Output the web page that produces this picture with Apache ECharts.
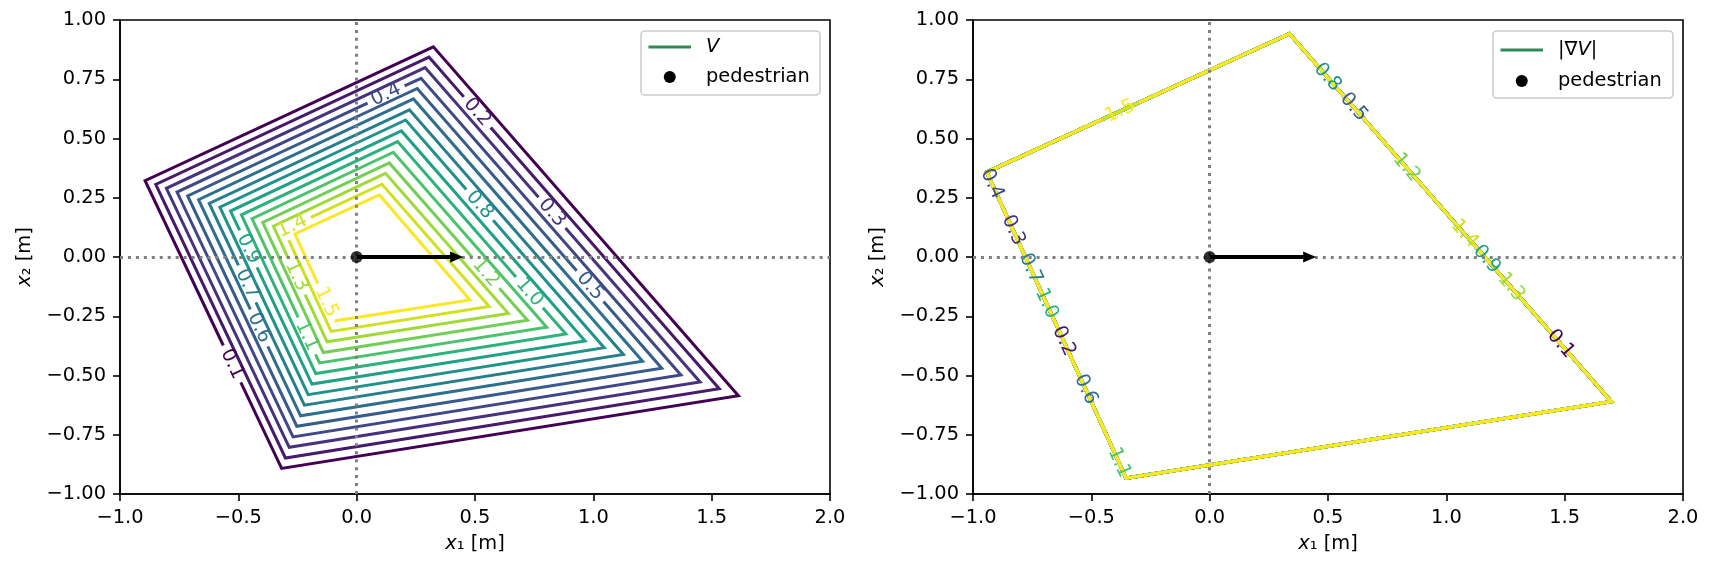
<!DOCTYPE html>
<html><head><meta charset="utf-8">
<script src="https://cdn.jsdelivr.net/npm/echarts@6/dist/echarts.min.js"></script>
<style>html,body{margin:0;padding:0;background:#fff;}#c{width:1713px;height:572px;}</style>
</head><body><div id="c"></div>
<script>
// ---------------- data ----------------
const levels = [0.1,0.2,0.3,0.4,0.5,0.6,0.7,0.8,0.9,1.0,1.1,1.2,1.3,1.4,1.5];

// Left panel: corners of each V contour (one entry per level)
const vTopX    = [0.324,0.306,0.289,0.272,0.256,0.240,0.223,0.207,0.189,0.173,0.155,0.138,0.122,0.107,0.096];
const vTopY    = [0.887,0.843,0.799,0.754,0.711,0.667,0.621,0.578,0.532,0.487,0.442,0.397,0.353,0.307,0.262];
const vRightX  = [1.613,1.532,1.451,1.370,1.289,1.208,1.127,1.046,0.965,0.884,0.803,0.722,0.641,0.560,0.479];
const vRightY  = [-0.585,-0.556,-0.527,-0.498,-0.469,-0.440,-0.411,-0.383,-0.354,-0.325,-0.296,-0.267,-0.238,-0.209,-0.181];
const vBottomX = [-0.317,-0.301,-0.285,-0.269,-0.253,-0.237,-0.221,-0.205,-0.189,-0.173,-0.157,-0.141,-0.125,-0.108,-0.092];
const vBottomY = [-0.892,-0.848,-0.803,-0.759,-0.714,-0.670,-0.625,-0.581,-0.536,-0.492,-0.447,-0.403,-0.358,-0.314,-0.269];
const vLeftX   = [-0.894,-0.849,-0.804,-0.759,-0.714,-0.668,-0.623,-0.578,-0.533,-0.487,-0.442,-0.397,-0.352,-0.307,-0.261];
const vLeftY   = [0.322,0.306,0.290,0.274,0.258,0.242,0.226,0.210,0.194,0.178,0.162,0.146,0.130,0.114,0.097];
// Left panel: inline label positions (one per level)
const vLabelX  = [-0.526,0.520,0.829,0.122,0.998,-0.406,-0.476,0.526,-0.456,0.739,-0.207,0.550,-0.247,-0.272,-0.127];
const vLabelY  = [-0.451,0.620,0.190,0.690,-0.113,-0.296,-0.120,0.225,0.035,-0.141,-0.331,-0.063,-0.077,0.131,-0.190];

// Right panel: |grad V| contours all lie on this boundary (top, right, bottom, left)
const gBoundX  = [0.337,1.697,-0.353,-0.942];
const gBoundY  = [0.942,-0.610,-0.933,0.358];
// Right panel: inline label positions (one per level)
const gLabelX  = [1.493,-0.607,-0.832,-0.918,0.615,-0.513,-0.742,0.505,1.174,-0.673,-0.365,0.834,1.283,1.084,-0.373];
const gLabelY  = [-0.358,-0.351,0.112,0.309,0.638,-0.554,-0.042,0.765,-0.007,-0.189,-0.860,0.379,-0.119,0.105,0.603];

const pedestrian = [0, 0];
const heading = [0.45, 0];
const xTicks = [-1.0,-0.5,0.0,0.5,1.0,1.5,2.0];
const yTicks = [-1.00,-0.75,-0.50,-0.25,0.00,0.25,0.50,0.75,1.00];

// ---------------- styling helpers ----------------
const FS = 19.4;
const FAM = 'DejaVu Sans';
const FONT = FS + 'px "DejaVu Sans"';
const VIR = ['#440154','#471365','#482475','#463480','#414487','#3b528b','#355f8d','#2f6c8e','#2a788e','#25848e','#21918c','#1e9c89','#22a884','#2fb47c','#44bf70','#5ec962','#7ad151','#9bd93c','#bddf26','#dfe318','#fde725'];
function hex2rgb(h){return [parseInt(h.substr(1,2),16),parseInt(h.substr(3,2),16),parseInt(h.substr(5,2),16)];}
function viridis(t){
  t=Math.max(0,Math.min(1,t)); const f=t*20; const i=Math.min(19,Math.floor(f)); const u=f-i;
  const a=hex2rgb(VIR[i]), b=hex2rgb(VIR[i+1]);
  return 'rgb('+[0,1,2].map(k=>Math.round(a[k]+(b[k]-a[k])*u)).join(',')+')';
}
const lvMin = levels[0], lvMax = levels[levels.length-1];
function levelColor(lv){return viridis((lv-lvMin)/(lvMax-lvMin));}
const mctx = document.createElement('canvas').getContext('2d');
function textW(s){mctx.font = FONT; return mctx.measureText(s).width;}
function fmt(v,d){return (v<0?'\u2212':'')+Math.abs(v).toFixed(d);}

// contour renderer: closed polygon with an inline label gap
function contourRenderer(cornersFor, labelFor, lwFor){
  return function(params, api){
    const i = api.value(2);
    const color = levelColor(levels[i]);
    const pts = cornersFor(i).map(c => api.coord(c));
    const n = pts.length;
    const seg = []; let P = 0;
    for (let k=0;k<n;k++){
      const a=pts[k], b=pts[(k+1)%n]; const len=Math.hypot(b[0]-a[0],b[1]-a[1]);
      seg.push({a,b,len,s:P}); P+=len;
    }
    function pointAt(s){
      s=((s%P)+P)%P;
      for (const sg of seg){ if (s<=sg.s+sg.len+1e-9){ const t=(s-sg.s)/sg.len; return [sg.a[0]+t*(sg.b[0]-sg.a[0]), sg.a[1]+t*(sg.b[1]-sg.a[1])]; } }
      return pts[0];
    }
    const lab = labelFor(i);
    const q = api.coord([lab.x, lab.y]);
    let best=null;
    seg.forEach(sg=>{
      const dx=sg.b[0]-sg.a[0], dy=sg.b[1]-sg.a[1];
      let t=((q[0]-sg.a[0])*dx+(q[1]-sg.a[1])*dy)/(sg.len*sg.len); t=Math.max(0,Math.min(1,t));
      const p=[sg.a[0]+t*dx, sg.a[1]+t*dy]; const d=Math.hypot(p[0]-q[0],p[1]-q[1]);
      if(!best||d<best.d){ let th=Math.atan2(-dy,dx); while(th>Math.PI/2)th-=Math.PI; while(th<-Math.PI/2)th+=Math.PI; best={d,p,s:sg.s+t*sg.len,th}; }
    });
    const txt = levels[i].toFixed(1);
    const h = textW(txt)/2 + 5;
    const start = best.s + h, end = best.s - h + P;
    const line = [pointAt(start)];
    const vs = [];
    for (let k=-n;k<3*n;k++){ const sv = seg[((k%n)+n)%n].s + Math.floor(k/n)*P; if (sv>start && sv<end) vs.push([sv, pts[((k%n)+n)%n]]); }
    vs.sort((x,y)=>x[0]-y[0]).forEach(v=>line.push(v[1]));
    line.push(pointAt(end));
    return {type:'group', children:[
      {type:'polyline', z2:1, shape:{points:line}, style:{stroke:color, lineWidth:lwFor(i), fill:null, lineJoin:'miter', lineCap:'butt'}},
      {type:'text', z2:100, x:best.p[0], y:best.p[1], rotation:best.th,
        style:{text:txt, x:0, y:0, fill:color, font:FONT, align:'center', verticalAlign:'middle', textAlign:'center', textVerticalAlign:'middle'}}
    ]};
  };
}

function arrowRenderer(params, api){
  const p0 = api.coord([api.value(0), api.value(1)]);
  const p1 = api.coord([api.value(2), api.value(3)]);
  const L = Math.hypot(p1[0]-p0[0], p1[1]-p0[1]);
  const ux=(p1[0]-p0[0])/L, uy=(p1[1]-p0[1])/L, nx=-uy, ny=ux;
  const hl=13, hw=5.5, sw=2;
  const b=[p1[0]-ux*hl, p1[1]-uy*hl];
  const pts=[[p0[0]+nx*sw,p0[1]+ny*sw],[b[0]+nx*sw,b[1]+ny*sw],[b[0]+nx*hw,b[1]+ny*hw],[p1[0],p1[1]],
             [b[0]-nx*hw,b[1]-ny*hw],[b[0]-nx*sw,b[1]-ny*sw],[p0[0]-nx*sw,p0[1]-ny*sw]];
  return {type:'polygon', shape:{points:pts}, style:{fill:'#000', stroke:null}};
}

function mkX(g){
  return {type:'value', gridIndex:g, min:xTicks[0], max:xTicks[xTicks.length-1], interval:xTicks[1]-xTicks[0],
    name:'{i|x}\u2081 [m]', nameLocation:'middle', nameGap:40,
    nameTextStyle:{color:'#000', fontSize:FS, fontFamily:FAM, rich:{i:{fontStyle:'italic', fontSize:FS, fontFamily:FAM, color:'#000'}}},
    axisLine:{show:true, onZero:false, lineStyle:{color:'#000', width:1.6}},
    axisTick:{show:true, inside:false, length:7, lineStyle:{color:'#000', width:1.6}},
    splitLine:{show:false},
    axisLabel:{color:'#000', fontSize:FS, fontFamily:FAM, margin:14, formatter:v=>fmt(v,1)}};
}
function mkY(g){
  return {type:'value', gridIndex:g, min:yTicks[0], max:yTicks[yTicks.length-1], interval:yTicks[1]-yTicks[0],
    name:'{i|x}\u2082 [m]', nameLocation:'middle', nameGap:86, nameRotate:90,
    nameTextStyle:{color:'#000', fontSize:FS, fontFamily:FAM, rich:{i:{fontStyle:'italic', fontSize:FS, fontFamily:FAM, color:'#000'}}},
    axisLine:{show:true, onZero:false, lineStyle:{color:'#000', width:1.6}},
    axisTick:{show:true, inside:false, length:7, lineStyle:{color:'#000', width:1.6}},
    splitLine:{show:false},
    axisLabel:{color:'#000', fontSize:FS, fontFamily:FAM, margin:14, formatter:v=>fmt(v,2)}};
}

const leftCorners = i => [[vTopX[i],vTopY[i]],[vRightX[i],vRightY[i]],[vBottomX[i],vBottomY[i]],[vLeftX[i],vLeftY[i]]];
const rightCorners = i => gBoundX.map((x,k)=>[x,gBoundY[k]]);
const leftLabel = i => ({x:vLabelX[i], y:vLabelY[i]});
const rightLabel = i => ({x:gLabelX[i], y:gLabelY[i]});
const idxData = levels.map((l,i)=>[0,0,i]);

function dotted(g){
  return {type:'line', xAxisIndex:g, yAxisIndex:g, data:[], z:3, silent:true,
    markLine:{silent:true, symbol:['none','none'], label:{show:false}, animation:false,
      lineStyle:{color:'#808080', width:3, type:[3,4.95], cap:'butt'},
      data:[{xAxis:pedestrian[0]},{yAxis:pedestrian[1]}]}};
}

const series = [
  {type:'custom', name:'Vc', xAxisIndex:0, yAxisIndex:0, data:idxData, encode:{x:0,y:1}, z:2, silent:true,
    renderItem:contourRenderer(leftCorners, leftLabel, i=>3)},
  {type:'custom', name:'Gc', xAxisIndex:1, yAxisIndex:1, data:idxData, encode:{x:0,y:1}, z:2, silent:true,
    renderItem:contourRenderer(rightCorners, rightLabel, i=> i===levels.length-1 ? 3 : 3.3)},
  dotted(0), dotted(1),
  {type:'custom', xAxisIndex:0, yAxisIndex:0, z:5, silent:true, data:[[pedestrian[0],pedestrian[1],heading[0],heading[1]]], encode:{x:0,y:1}, renderItem:arrowRenderer},
  {type:'custom', xAxisIndex:1, yAxisIndex:1, z:5, silent:true, data:[[pedestrian[0],pedestrian[1],heading[0],heading[1]]], encode:{x:0,y:1}, renderItem:arrowRenderer},
  {type:'scatter', xAxisIndex:0, yAxisIndex:0, z:6, silent:true, symbolSize:12, itemStyle:{color:'#000'}, data:[pedestrian]},
  {type:'scatter', xAxisIndex:1, yAxisIndex:1, z:6, silent:true, symbolSize:12, itemStyle:{color:'#000'}, data:[pedestrian]}
];

function legendBox(x,y,w,h,row1,row2,label1){
  const hx0 = x+7.5, hx1 = x+50, tx = x+65;
  return [
    {type:'rect', z:50, shape:{x:x,y:y,width:w,height:h,r:4}, style:{fill:'rgba(255,255,255,0.8)', stroke:'#cccccc', lineWidth:1.6}},
    {type:'line', z:51, shape:{x1:hx0,y1:row1,x2:hx1,y2:row1}, style:{stroke:'#2e8b57', lineWidth:3}},
    {type:'circle', z:51, shape:{cx:(hx0+hx1)/2, cy:row2, r:6}, style:{fill:'#000'}},
    {type:'text', z:51, x:tx, y:row1, style:{text:label1, fill:'#000', fontSize:FS, fontFamily:FAM, align:'left', verticalAlign:'middle', textAlign:'left', textVerticalAlign:'middle',
      rich:{i:{fontStyle:'italic', fontSize:FS, fontFamily:FAM, fill:'#000'}}}},
    {type:'text', z:51, x:tx, y:row2, style:{text:'pedestrian', fill:'#000', fontSize:FS, fontFamily:FAM, align:'left', verticalAlign:'middle', textAlign:'left', textVerticalAlign:'middle'}}
  ];
}

const chart = echarts.init(document.getElementById('c'), null, {renderer:'canvas'});
chart.setOption({
  animation:false,
  backgroundColor:'#ffffff',
  textStyle:{fontFamily:FAM},
  grid:[
    {left:120, top:20, width:710, height:474, show:true, borderColor:'#000', borderWidth:1.6, backgroundColor:'transparent'},
    {left:973, top:20, width:710, height:474, show:true, borderColor:'#000', borderWidth:1.6, backgroundColor:'transparent'}
  ],
  xAxis:[mkX(0), mkX(1)],
  yAxis:[mkY(0), mkY(1)],
  series:series,
  graphic:[].concat(
    legendBox(641,31,179,64,47,77,'{i|V}'),
    legendBox(1493,31,180,67,50,81,'|\u2207{i|V}|')
  )
});
</script></body></html>
